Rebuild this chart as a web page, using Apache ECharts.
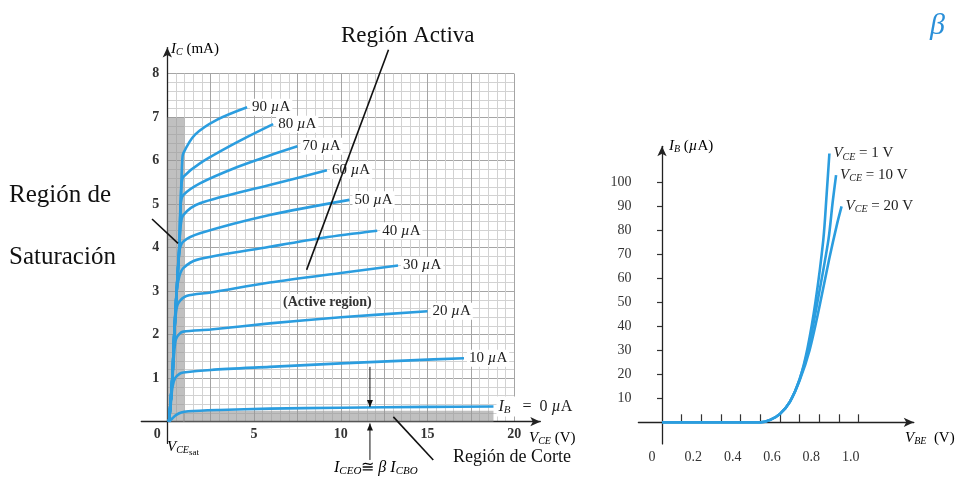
<!DOCTYPE html>
<html><head><meta charset="utf-8">
<script src="https://cdn.jsdelivr.net/npm/echarts@6/dist/echarts.min.js"></script>
<style>html,body{margin:0;padding:0;background:#fff}#c{width:957px;height:483px}</style>
</head><body><div id="c"></div>
<script>
// ---------- Data: left chart (collector characteristics, I_C in mA vs V_CE in V) ----------
const baseCurrents = ['0', '10', '20', '30', '40', '50', '60', '70', '80', '90']; // µA
const ic_0uA  = [[0.1,0],[0.3,0.08],[0.5,0.15],[0.8,0.21],[1.2,0.24],[3,0.27],[5.9,0.3],[10,0.32],[15,0.34],[18.8,0.35]];
const ic_10uA = [[0.1,0],[0.2,0.4],[0.3,0.8],[0.45,1.0],[0.7,1.1],[0.92,1.13],[2.5,1.19],[5.9,1.26],[10,1.34],[14,1.41],[17.1,1.46]];
const ic_20uA = [[0.1,0],[0.2,0.5],[0.3,1.0],[0.4,1.6],[0.5,1.9],[0.7,2.02],[0.92,2.07],[2.5,2.12],[5.9,2.26],[10,2.4],[15,2.54]];
const ic_30uA = [[0.1,0],[0.29,1],[0.4,2],[0.5,2.5],[0.63,2.72],[1.1,2.89],[2.5,2.97],[5.9,3.2],[10,3.42],[13.3,3.59]];
const ic_40uA = [[0.1,0],[0.29,1],[0.4,2],[0.54,3],[0.7,3.35],[0.92,3.53],[1.69,3.72],[5.9,4.02],[9,4.23],[12.1,4.39]];
const ic_50uA = [[0.1,0],[0.29,1],[0.4,2],[0.54,3],[0.69,3.9],[0.92,4.14],[1.88,4.33],[5.9,4.75],[10.5,5.1]];
const ic_60uA = [[0.1,0],[0.29,1],[0.4,2],[0.54,3],[0.69,4],[0.77,4.5],[0.92,4.75],[1.88,5.02],[5.9,5.44],[9.2,5.78]];
const ic_70uA = [[0.1,0],[0.29,1],[0.4,2],[0.54,3],[0.69,4],[0.77,5],[0.92,5.21],[1.88,5.48],[4,5.85],[5.9,6.12],[7.5,6.33]];
const ic_80uA = [[0.1,0],[0.29,1],[0.4,2],[0.54,3],[0.69,4],[0.77,5],[0.83,5.5],[0.92,5.63],[1.88,5.94],[4,6.42],[6.1,6.84]];
const ic_90uA = [[0.1,0],[0.29,1],[0.4,2],[0.54,3],[0.69,4],[0.77,5],[0.86,6],[0.92,6.17],[1.6,6.6],[2.85,6.94],[4.6,7.23]];
const icCurves = [ic_0uA, ic_10uA, ic_20uA, ic_30uA, ic_40uA, ic_50uA, ic_60uA, ic_70uA, ic_80uA, ic_90uA];
const vceTickLabels = [0, 5, 10, 15, 20];
const icTickLabels = [1, 2, 3, 4, 5, 6, 7, 8];
// shaded regions [x1, y1, x2, y2] in V / mA
const saturationRegion = [0, 0, 1, 7];
const cutoffRegion = [0.9, 0, 18.8, 0.25];
// annotation leader lines [x1, y1, x2, y2, arrowAtEnd] in V / mA
const annotationSegments = [
  [12.75, 8.55, 8.03, 3.49, 0],
  [-0.88, 4.66, 0.62, 4.1, 0],
  [13.03, 0.11, 15.33, -0.88, 0],
  [11.68, 1.26, 11.68, 0.34, 1],
  [11.68, -0.88, 11.68, -0.04, 1]
];

// ---------- Data: right chart (input characteristics, I_B in µA vs V_BE in V) ----------
const vceValues = ['1', '10', '20']; // V
const ib_vce1  = [[0,0],[0.5,0],[0.55,1],[0.6,3.5],[0.65,8.5],[0.7,18],[0.74,31],[0.78,50],[0.82,76],[0.837,95],[0.851,112]];
const ib_vce10 = [[0,0],[0.5,0],[0.55,1],[0.6,3.5],[0.65,8.5],[0.7,18],[0.745,31],[0.79,50],[0.846,76],[0.868,92],[0.885,103]];
const ib_vce20 = [[0,0],[0.5,0],[0.55,1],[0.6,3.5],[0.65,8.5],[0.7,17.5],[0.75,30],[0.8,48],[0.85,68],[0.891,83],[0.913,90]];
const ibCurves = [ib_vce1, ib_vce10, ib_vce20];
const vbeTickValues = [0.1,0.2,0.3,0.4,0.5,0.6,0.7,0.8,0.9,1.0];
const vbeLabelValues = [0, 0.2, 0.4, 0.6, 0.8, 1.0];
const ibTickValues = [10,20,30,40,50,60,70,80,90,100];

// ---------- Layout ----------
const SERIF = '"Liberation Serif","Times New Roman",serif';
const BLUE = '#2b9ddf';
const LX0 = 167.3, LXS = 17.35, LY0 = 421.7, LYS = 43.5;
const RX0 = 662, RXS = 196.7, RY0 = 422.3, RYS = 2.4;

const chart = echarts.init(document.getElementById('c'), null, {renderer: 'canvas'});

const subRich = {
  i: {fontFamily: SERIF, fontStyle: 'italic', fontSize: 15, color: '#222'},
  s: {fontFamily: SERIF, fontStyle: 'italic', fontSize: 10, color: '#222', padding: [7, 0, 0, 0]},
  ss: {fontFamily: SERIF, fontStyle: 'normal', fontSize: 9, color: '#222', padding: [12, 0, 0, 0]},
  n: {fontFamily: SERIF, fontSize: 15, color: '#222'},
  u: {fontFamily: SERIF, fontStyle: 'italic', fontSize: 15, color: '#222'},
  I: {fontFamily: SERIF, fontStyle: 'italic', fontSize: 16, color: '#222'},
  S: {fontFamily: SERIF, fontStyle: 'italic', fontSize: 11, color: '#222', padding: [7, 0, 0, 0]},
  N: {fontFamily: SERIF, fontSize: 16, color: '#222'}
};

const leftSeries = icCurves.map((d, k) => ({
  type: 'line', name: baseCurrents[k] + ' µA', xAxisIndex: 0, yAxisIndex: 0,
  data: d, smooth: 0.3, showSymbol: false, z: 5, clip: false,
  lineStyle: {color: BLUE, width: 2.6}, itemStyle: {color: BLUE},
  endLabel: {
    show: true, distance: 3, backgroundColor: '#fff', padding: [1, 2],
    formatter: k === 0 ? '{I|I}{S|B}{N|   =  0 }{I|µ}{N|A}' : '{n|' + baseCurrents[k] + ' }{u|µ}{n|A}',
    rich: subRich
  },
  emphasis: {disabled: true}, silent: true
}));

const rightSeries = ibCurves.map((d, k) => ({
  type: 'line', name: 'VCE = ' + vceValues[k] + ' V', xAxisIndex: 2, yAxisIndex: 2,
  data: d, smooth: 0.3, showSymbol: false, z: 5,
  lineStyle: {color: BLUE, width: 2.6}, itemStyle: {color: BLUE},
  endLabel: {
    show: true, distance: 4,
    formatter: '{i|V}{s|CE}{n| = ' + vceValues[k] + ' V}',
    rich: subRich
  },
  emphasis: {disabled: true}, silent: true
}));

const regionSeries = {
  type: 'custom', xAxisIndex: 0, yAxisIndex: 0, z: 2, clip: false, silent: true,
  data: [saturationRegion, cutoffRegion],
  encode: {x: [0, 2], y: [1, 3]},
  renderItem: (params, api) => {
    const a = api.coord([api.value(0), api.value(3)]);
    const b = api.coord([api.value(2), api.value(1)]);
    return {type: 'rect', shape: {x: a[0], y: a[1], width: b[0] - a[0], height: b[1] - a[1]},
            style: {fill: 'rgba(150,150,150,0.6)'}};
  }
};

const annotSeries = {
  type: 'custom', xAxisIndex: 1, yAxisIndex: 1, z: 6, clip: false, silent: true,
  data: annotationSegments,
  encode: {x: [0, 2], y: [1, 3]},
  renderItem: (params, api) => {
    const p1 = api.coord([api.value(0), api.value(1)]);
    const p2 = api.coord([api.value(2), api.value(3)]);
    const arrow = api.value(4) === 1;
    const children = [{type: 'line', shape: {x1: p1[0], y1: p1[1], x2: p2[0], y2: p2[1]},
      style: {stroke: '#111', lineWidth: arrow ? 1 : 1.6}}];
    if (arrow) {
      const dx = p2[0] - p1[0], dy = p2[1] - p1[1];
      const L = Math.sqrt(dx * dx + dy * dy) || 1;
      const ux = dx / L, uy = dy / L, len = 7, w = 3;
      const bx = p2[0] - ux * len, by = p2[1] - uy * len;
      children.push({type: 'polygon', shape: {points: [[p2[0], p2[1]], [bx - uy * w, by + ux * w], [bx + uy * w, by - ux * w]]},
        style: {fill: '#111'}});
    }
    return {type: 'group', children};
  }
};

const axisLabelBold = {fontFamily: SERIF, fontWeight: 'bold', fontSize: 14, color: '#333'};

const option = {
  animation: false,
  backgroundColor: '#fff',
  grid: [
    {left: LX0, top: LY0 - 8 * LYS, width: 20 * LXS, height: 8 * LYS, containLabel: false},
    {left: LX0 - 1.5 * LXS, top: LY0 - 8.6 * LYS, width: 23 * LXS, height: 9.1 * LYS, containLabel: false},
    {left: RX0 - 0.12 * RXS, top: RY0 - 115 * RYS, width: 1.4 * RXS, height: 124 * RYS, containLabel: false}
  ],
  xAxis: [
    {gridIndex: 0, type: 'value', min: 0, max: 20, interval: 2.5,
     axisLine: {show: false}, axisTick: {show: false},
     splitLine: {show: true, lineStyle: {color: '#a5a5a5', width: 1}},
     minorTick: {show: false, splitNumber: 5},
     minorSplitLine: {show: true, lineStyle: {color: '#d2d2d2', width: 1}},
     axisLabel: {
       margin: 6,
       formatter: v => vceTickLabels.includes(v) ? (v === 0 ? '{z|0}' : '{b|' + v + '}') : '',
       rich: {z: Object.assign({padding: [0, 20, 0, 0]}, axisLabelBold), b: axisLabelBold}
     }},
    {gridIndex: 1, type: 'value', min: -1.5, max: 21.5,
     axisLine: {show: true, onZero: true, symbol: ['none', 'arrow'], symbolSize: [7, 10], lineStyle: {color: '#222', width: 1.3}},
     axisTick: {show: false}, axisLabel: {show: false}, splitLine: {show: false}},
    {gridIndex: 2, type: 'value', min: -0.12, max: 1.28,
     axisLine: {show: true, onZero: true, symbol: ['none', 'arrow'], symbolSize: [7, 10], lineStyle: {color: '#222', width: 1.3}},
     axisTick: {show: true, inside: true, length: 8, customValues: vbeTickValues, lineStyle: {color: '#333', width: 1.2}},
     axisLabel: {
       show: true, margin: 6, customValues: vbeLabelValues,
       formatter: v => v === 0 ? '{z|0}' : '{b|' + v.toFixed(1) + '}',
       rich: {
         z: {fontFamily: SERIF, fontSize: 14, color: '#333', padding: [0, 20, 0, 0]},
         b: {fontFamily: SERIF, fontSize: 14, color: '#333', padding: [0, 16, 0, 0]}
       }
     },
     splitLine: {show: false}}
  ],
  yAxis: [
    {gridIndex: 0, type: 'value', min: 0, max: 8, interval: 1,
     axisLine: {show: false}, axisTick: {show: false},
     splitLine: {show: true, lineStyle: {color: '#a5a5a5', width: 1}},
     minorTick: {show: false, splitNumber: 5},
     minorSplitLine: {show: true, lineStyle: {color: '#d2d2d2', width: 1}},
     axisLabel: Object.assign({margin: 8, formatter: v => icTickLabels.includes(v) ? String(v) : ''}, axisLabelBold)},
    {gridIndex: 1, type: 'value', min: -0.5, max: 8.6,
     axisLine: {show: true, onZero: true, symbol: ['none', 'arrow'], symbolSize: [7, 10], lineStyle: {color: '#222', width: 1.3}},
     axisTick: {show: false}, axisLabel: {show: false}, splitLine: {show: false}},
    {gridIndex: 2, type: 'value', min: -9, max: 115,
     axisLine: {show: true, onZero: true, symbol: ['none', 'arrow'], symbolSize: [7, 10], lineStyle: {color: '#222', width: 1.3}},
     axisTick: {show: true, length: 5, customValues: ibTickValues, lineStyle: {color: '#333', width: 1.2}},
     axisLabel: {show: true, margin: 7, customValues: ibTickValues, fontFamily: SERIF, fontSize: 14, color: '#333'},
     splitLine: {show: false}}
  ],
  series: [regionSeries, annotSeries].concat(leftSeries, rightSeries),
  graphic: [
    {type: 'text', silent: true, style: {x: 341, y: 36, text: 'Región Activa', font: '23px ' + SERIF, fill: '#111', verticalAlign: 'middle'}},
    {type: 'text', silent: true, style: {x: 9, y: 195, text: 'Región de', font: '25px ' + SERIF, fill: '#111', verticalAlign: 'middle'}},
    {type: 'text', silent: true, style: {x: 9, y: 257, text: 'Saturación', font: '25px ' + SERIF, fill: '#111', verticalAlign: 'middle'}},
    {type: 'text', silent: true, style: {x: 453, y: 457, text: 'Región de Corte', font: '18px ' + SERIF, fill: '#111', verticalAlign: 'middle'}},
    {type: 'text', silent: true, z: 4, style: {x: 281, y: 302, text: '(Active region)', font: 'bold 14px ' + SERIF, fill: '#333', verticalAlign: 'middle', backgroundColor: 'rgba(255,255,255,0.85)', padding: [1, 2]}},
    {type: 'text', silent: true, style: {x: 171, y: 49, text: '{i|I}{s|C}{n| (mA)}', rich: subRich, verticalAlign: 'middle'}},
    {type: 'text', silent: true, style: {x: 167, y: 447, text: '{i|V}{s|CE}{ss|sat}', rich: subRich, verticalAlign: 'middle'}},
    {type: 'text', silent: true, style: {x: 529, y: 438, text: '{i|V}{s|CE}{n| (V)}', rich: subRich, verticalAlign: 'middle'}},
    {type: 'text', silent: true, style: {x: 334, y: 468, text: '{I|I}{S|CEO}{N|≅ }{I|β I}{S|CBO}', rich: subRich, verticalAlign: 'middle'}},
    {type: 'text', silent: true, style: {x: 669, y: 146, text: '{i|I}{s|B}{n| (}{u|µ}{n|A)}', rich: subRich, verticalAlign: 'middle'}},
    {type: 'text', silent: true, style: {x: 905, y: 438, text: '{i|V}{s|BE}{n|  (V)}', rich: subRich, verticalAlign: 'middle'}},
    {type: 'text', silent: true, style: {x: 930, y: 26, text: 'β', font: 'italic 30px ' + SERIF, fill: '#2a8fd8', verticalAlign: 'middle'}}
  ]
};
chart.setOption(option);
</script>
</body></html>
